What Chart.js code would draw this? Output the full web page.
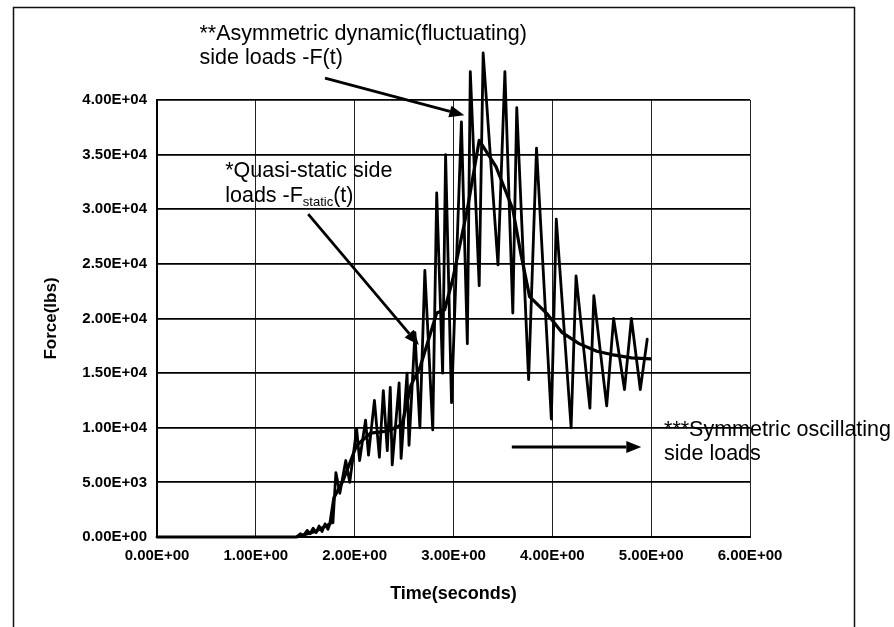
<!DOCTYPE html>
<html lang="en">
  <head>
    <meta charset="UTF-8" />
    <title>Side loads</title>
    <script src="https://cdn.jsdelivr.net/npm/chart.js"></script>
    <style>
      body { margin: 0; background: #fff; }
    </style>
  </head>
  <body>
    <canvas id="chart" width="894" height="627"></canvas>
    <script>
      // F(t) - fluctuating side load (time s, force lbs)
      const fluctTime = [0, 1.41, 1.45, 1.48, 1.52, 1.55, 1.58, 1.61, 1.64, 1.67, 1.70, 1.73, 1.76, 1.78,
        1.81, 1.85, 1.91, 1.95, 2.02, 2.05, 2.11, 2.14, 2.20, 2.25, 2.29, 2.33, 2.36, 2.38, 2.45, 2.47,
        2.53, 2.55, 2.61, 2.66, 2.71, 2.79, 2.83, 2.89, 2.92, 2.98, 3.08, 3.14, 3.17, 3.26, 3.30, 3.45,
        3.52, 3.60, 3.64, 3.76, 3.84, 3.99, 4.04, 4.19, 4.24, 4.38, 4.42, 4.55, 4.62, 4.73, 4.80, 4.89, 4.96];
      const fluctForce = [0, 0, 300, 100, 600, 300, 800, 400, 1000, 500, 1200, 700, 1500, 1300,
        5900, 4000, 7000, 5000, 9900, 7000, 10700, 7500, 12500, 7300, 13400, 7900, 13700, 6600, 14100, 7200,
        15000, 8400, 18700, 10000, 24400, 9800, 31500, 15000, 35000, 12300, 38000, 17700, 42600, 23000, 44300, 24900,
        42600, 20500, 39300, 14400, 35600, 10800, 29100, 10000, 23900, 11800, 22100, 12000, 20000, 13500, 20000, 13500, 18100];

      // F_static(t) - quasi-static side load
      const staticTime = [1.41, 1.60, 1.75, 1.79, 1.88, 2.02, 2.16, 2.34, 2.48, 2.57, 2.66, 2.83, 2.91, 2.99,
        3.14, 3.26, 3.43, 3.60, 3.68, 3.77, 3.94, 4.10, 4.27, 4.45, 4.60, 4.80, 5.00];
      const staticForce = [0, 500, 1200, 3600, 5100, 8400, 9500, 9700, 10300, 13900, 15500, 20500, 20800, 23500,
        30000, 36300, 33900, 30000, 26000, 22000, 20500, 18700, 17700, 17000, 16700, 16400, 16300];

      const xTicks = [0, 1, 2, 3, 4, 5, 6];
      const yTicks = [0, 5000, 10000, 15000, 20000, 25000, 30000, 35000, 40000];

      function sci(v) {
        const [m, e] = Number(v).toExponential(2).split("e");
        const n = parseInt(e, 10);
        return m + "E" + (n < 0 ? "-" : "+") + String(Math.abs(n)).padStart(2, "0");
      }

      const toPoints = (xs, ys) => xs.map((x, i) => ({ x, y: ys[i] }));

      // annotation text and arrows, positioned in data units
      const notes = [
        { x: 0.43, y: 46000, parts: [["**Asymmetric dynamic(fluctuating)"]] },
        { x: 0.43, y: 43800, parts: [["side loads -F(t)"]] },
        { x: 0.69, y: 33500, parts: [["*Quasi-static side"]] },
        { x: 0.69, y: 31200, parts: [["loads -F"], ["static", "sub"], ["(t)"]] },
        { x: 5.13, y: 9800, parts: [["***Symmetric oscillating"]] },
        { x: 5.13, y: 7600, parts: [["side loads"]] },
      ];
      const arrows = [
        [1.70, 42000, 3.11, 38600],
        [1.53, 29550, 2.65, 17570],
        [3.59, 8240, 4.90, 8240],
      ];

      const decor = {
        id: "decor",
        beforeDraw(chart) {
          const ctx = chart.ctx;
          ctx.save();
          ctx.fillStyle = "#fff";
          ctx.fillRect(0, 0, chart.width, chart.height);
          ctx.strokeStyle = "#111";
          ctx.lineWidth = 1.5;
          ctx.strokeRect(13.5, 7.5, 841, 640);
          ctx.restore();
        },
        afterDraw(chart) {
          const ctx = chart.ctx;
          const xs = chart.scales.x, ys = chart.scales.y;
          ctx.save();
          ctx.fillStyle = "#000";
          ctx.strokeStyle = "#000";
          ctx.textBaseline = "middle";
          notes.forEach((n) => {
            let px = xs.getPixelForValue(n.x);
            const py = ys.getPixelForValue(n.y);
            n.parts.forEach(([txt, kind]) => {
              ctx.font = kind === "sub" ? "13px 'Liberation Sans', Arial" : "21.5px 'Liberation Sans', Arial";
              ctx.fillText(txt, px, kind === "sub" ? py + 6 : py);
              px += ctx.measureText(txt).width;
            });
          });
          ctx.lineWidth = 2.8;
          arrows.forEach(([x1, y1, x2, y2]) => {
            const ax = xs.getPixelForValue(x1), ay = ys.getPixelForValue(y1);
            const bx = xs.getPixelForValue(x2), by = ys.getPixelForValue(y2);
            const ang = Math.atan2(by - ay, bx - ax);
            const len = 15, w = 6;
            const cx = bx - len * Math.cos(ang), cy = by - len * Math.sin(ang);
            ctx.beginPath();
            ctx.moveTo(ax, ay);
            ctx.lineTo(cx, cy);
            ctx.stroke();
            ctx.beginPath();
            ctx.moveTo(bx, by);
            ctx.lineTo(cx + w * Math.sin(ang), cy - w * Math.cos(ang));
            ctx.lineTo(cx - w * Math.sin(ang), cy + w * Math.cos(ang));
            ctx.closePath();
            ctx.fill();
          });
          ctx.restore();
        },
      };

      const tickFont = { family: "'Liberation Sans', Arial", size: 15, weight: "bold" };

      new Chart(document.getElementById("chart"), {
        type: "scatter",
        data: {
          datasets: [
            {
              label: "F(t)",
              data: toPoints(fluctTime, fluctForce),
              showLine: true,
              borderColor: "#000",
              borderWidth: 2.8,
              borderJoinStyle: "round",
              borderCapStyle: "round",
              pointRadius: 0,
              tension: 0,
              clip: false,
            },
            {
              label: "Fstatic(t)",
              data: toPoints(staticTime, staticForce),
              showLine: true,
              borderColor: "#000",
              borderWidth: 3.2,
              borderJoinStyle: "round",
              pointRadius: 0,
              tension: 0,
              clip: false,
            },
          ],
        },
        options: {
          responsive: false,
          animation: false,
          layout: { padding: { left: 0, top: 100, right: 144, bottom: 0 } },
          plugins: { legend: { display: false }, tooltip: { enabled: false } },
          scales: {
            x: {
              type: "linear",
              min: 0,
              max: 6,
              afterBuildTicks: (s) => { s.ticks = xTicks.map((v) => ({ value: v })); },
              afterFit: (s) => { s.height = 90; },
              ticks: { color: "#000", font: tickFont, padding: 10, maxRotation: 0, callback: sci },
              grid: { color: "#222", lineWidth: 1, drawTicks: false },
              border: { color: "#000", width: 2 },
              title: {
                display: true,
                text: "Time(seconds)",
                color: "#000",
                font: { family: "'Liberation Sans', Arial", size: 18, weight: "bold" },
                padding: { bottom: 22 },
              },
            },
            y: {
              min: 0,
              max: 40000,
              afterBuildTicks: (s) => { s.ticks = yTicks.map((v) => ({ value: v })); },
              afterFit: (s) => { s.width = 157; },
              ticks: { color: "#000", font: tickFont, padding: 10, callback: sci },
              grid: { color: "#000", lineWidth: 1.8, drawTicks: false },
              border: { color: "#000", width: 2 },
              title: {
                display: true,
                text: "Force(lbs)",
                color: "#000",
                font: { family: "'Liberation Sans', Arial", size: 17, weight: "bold" },
                padding: { top: 41 },
              },
            },
          },
        },
        plugins: [decor],
      });
    </script>
  </body>
</html>
